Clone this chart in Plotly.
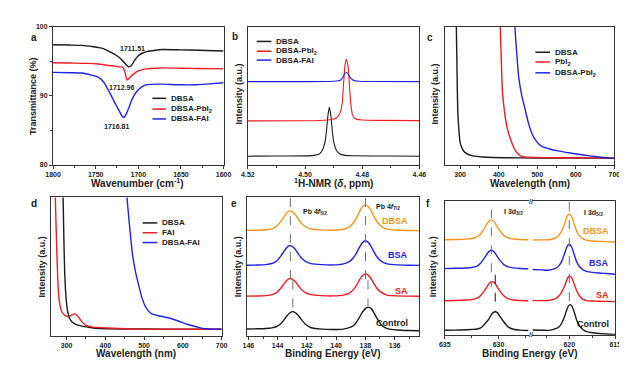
import plotly.graph_objects as go

W, H = 627, 369
FONT = "Liberation Sans"
BLACK = "#1a1a1a"; RED = "#ec1c24"; BLUE = "#2222e0"; ORANGE = "#f7941d"; GRAY = "#707070"

# ---------------- panel a : FTIR ----------------
a_black_x = [1800, 1780, 1766, 1755, 1743, 1732, 1725, 1720, 1715, 1711.5, 1708, 1704, 1700, 1695, 1690, 1680, 1672, 1650, 1630, 1600]
a_black_y = [97.4, 97.35, 97.3, 97.15, 96.9, 96.3, 95.8, 95.3, 94.6, 94.2, 94.4, 95.2, 95.8, 96.2, 96.4, 96.6, 96.7, 96.65, 96.6, 96.5]
a_red_x = [1800, 1780, 1760, 1747, 1735, 1728, 1722, 1718, 1716, 1714.5, 1713, 1711, 1708, 1704, 1700, 1695, 1690, 1680, 1670, 1650, 1630, 1600]
a_red_y = [94.8, 94.75, 94.7, 94.6, 94.4, 94.3, 94.2, 94.1, 93.6, 92.8, 92.3, 92.5, 92.9, 93.3, 93.6, 93.8, 93.9, 94.0, 94.05, 94.0, 93.95, 93.9]
a_blue_x = [1800, 1780, 1766, 1755, 1747, 1740, 1736, 1732, 1728, 1724, 1721, 1718.5, 1716.8, 1714, 1711, 1707, 1702, 1696, 1691, 1680, 1672, 1650, 1634, 1620, 1600]
a_blue_y = [93.4, 93.35, 93.3, 93.0, 92.7, 91.9, 91.0, 90.1, 89.1, 88.2, 87.5, 87.0, 86.9, 87.4, 88.3, 89.6, 90.6, 91.3, 91.6, 91.7, 91.7, 91.6, 91.6, 91.7, 91.9]
a_names = ["DBSA", "DBSA-PbI<sub>2</sub>", "DBSA-FAI"]
a_peaks = ["1711.51", "1712.96", "1716.81"]

# ---------------- panel b : 1H-NMR ----------------
b_black_x = [4.52, 4.51, 4.50, 4.497, 4.495, 4.494, 4.493, 4.4925, 4.492, 4.4915, 4.491, 4.4905, 4.490, 4.489, 4.488, 4.486, 4.483, 4.47, 4.46]
b_black_y = [6.4, 6.5, 6.6, 7.0, 8.0, 10.5, 17, 25, 36, 41.8, 36, 25, 17, 10.5, 8.2, 7.0, 6.7, 6.5, 6.4]
b_red_x = [4.52, 4.50, 4.495, 4.492, 4.490, 4.489, 4.488, 4.4875, 4.487, 4.4865, 4.486, 4.4856, 4.485, 4.4845, 4.484, 4.4835, 4.483, 4.482, 4.480, 4.475, 4.46]
b_red_y = [31.9, 32.0, 32.2, 32.6, 33.3, 34.2, 36.5, 39.5, 45, 60, 73, 76.4, 72, 58, 44, 37, 34.5, 33.2, 32.6, 32.3, 32.1]
b_blue_x = [4.52, 4.50, 4.492, 4.489, 4.4875, 4.487, 4.4865, 4.486, 4.4855, 4.485, 4.4845, 4.484, 4.483, 4.481, 4.478, 4.46]
b_blue_y = [60.3, 60.3, 60.4, 60.7, 61.5, 62.8, 64.8, 66.5, 66.9, 66.0, 64.3, 62.6, 61.2, 60.6, 60.4, 60.3]
b_names = ["DBSA", "DBSA-PbI<sub>2</sub>", "DBSA-FAI"]

# ---------------- panel c : UV-vis ----------------
c_black_x = [288, 290, 292, 293.6, 296, 300, 306, 313, 333, 360, 384, 450, 550, 700]
c_black_y = [120, 100, 65, 40, 28, 16, 11.5, 9, 6.6, 5.8, 5.5, 5.2, 5.1, 5.0]
c_red_x = [402, 404, 407, 410, 414, 418, 424, 431, 437, 443.6, 450, 460, 475, 494, 550, 620, 700]
c_red_y = [120, 100, 73, 51.5, 41, 32.6, 24.5, 18.4, 14, 10.2, 8.2, 6.2, 5.6, 5.5, 5.3, 5.2, 5.0]
c_blue_x = [440, 442, 447, 452, 460, 469, 477, 485.5, 497, 510.8, 530, 553, 585, 620, 655, 687, 700]
c_blue_y = [120, 100, 80, 63.3, 50, 39.7, 30.5, 23.2, 17.5, 13.7, 11.8, 10.2, 8.7, 7.3, 6.0, 5.0, 4.9]
c_names = ["DBSA", "PbI<sub>2</sub>", "DBSA-PbI<sub>2</sub>"]

# ---------------- panel d : UV-vis ----------------
d_black_x = [289, 291, 293, 295, 298, 303, 308, 312, 320, 337, 360, 387, 450, 550, 700]
d_black_y = [120, 100, 70, 47, 30, 17, 12.5, 10.6, 8.8, 7.1, 6.0, 5.2, 4.9, 4.8, 4.7]
d_red_x = [269, 271, 273, 275, 277, 279, 283, 287, 295, 304, 312, 320, 326, 332, 340, 349, 365, 387, 450, 500, 600, 700]
d_red_y = [120, 100, 78, 59, 43, 31, 22, 17.7, 15, 13.7, 14.8, 15.8, 15, 13, 10, 7.6, 6.4, 5.9, 5.1, 4.8, 4.7, 4.7]
d_blue_x = [454, 456, 463, 470, 478, 487, 495, 503, 511, 520, 540, 562, 590, 612, 635, 653, 675, 700]
d_blue_y = [120, 100, 78, 59, 46, 35.5, 27, 21.3, 18, 15.8, 14.3, 13, 10.5, 8.3, 6.5, 5.2, 4.8, 4.7]
d_names = ["DBSA", "FAI", "DBSA-FAI"]

# ---------------- panel e : XPS Pb 4f ----------------
e_x = [146.1, 145.4, 144.8, 144.4, 144.1, 143.8, 143.6, 143.4, 143.2, 143.0, 142.8, 142.6, 142.4, 142.1, 141.7, 141.0, 140.2,
       139.5, 139.1, 138.8, 138.6, 138.4, 138.2, 138.0, 137.8, 137.6, 137.4, 137.2, 136.9, 136.5, 135.8, 135.0, 134.3]
e_dbsa = [76.2, 76.3, 76.6, 77.3, 78.9, 82.5, 85.5, 88.6, 90.2, 89.7, 87.6, 84.5, 81.6, 78.8, 77.2, 76.5, 76.3,
          77.0, 78.7, 81.9, 85.4, 89.7, 93.2, 94.6, 93.4, 90.3, 86.1, 82.4, 79.1, 77.1, 76.4, 76.1, 76.0]
e_bsa = [51.0, 51.1, 51.4, 52.2, 53.8, 57.4, 60.4, 63.5, 65.1, 64.6, 62.5, 59.4, 56.5, 53.7, 52.1, 51.4, 51.2,
         52.0, 53.6, 56.6, 59.9, 64.1, 67.3, 68.7, 67.5, 64.5, 60.4, 56.9, 53.8, 51.9, 51.2, 51.0, 50.9]
e_sa = [28.6, 28.7, 29.0, 29.7, 31.0, 34.2, 37.0, 39.7, 41.3, 41.0, 39.2, 36.5, 33.7, 31.2, 29.7, 29.0, 28.8,
        29.4, 30.8, 33.5, 36.6, 40.3, 43.3, 44.7, 43.8, 41.1, 37.5, 34.2, 31.3, 29.4, 28.8, 28.6, 28.5]
e_control = [4.9, 5.0, 5.2, 5.7, 6.5, 8.5, 11.0, 13.9, 16.3, 17.4, 16.8, 14.8, 12.0, 8.3, 5.8, 4.8, 4.5,
             4.8, 5.8, 7.4, 9.9, 13.4, 17.0, 19.6, 20.5, 19.6, 16.4, 12.5, 7.8, 5.2, 4.2, 3.8, 3.6]
e_peak_top = [143.13, 137.99]
e_peak_ctrl = [142.96, 137.82]

# ---------------- panel f : XPS I 3d (broken axis) ----------------
fL_x = [635, 634, 633, 632.5, 632, 631.7, 631.4, 631.1, 630.9, 630.7, 630.5, 630.3, 630.1, 629.8, 629.5, 629.1, 628.6, 628, 627.2]
fL_dbsa = [71.2, 71.4, 71.7, 72.1, 73.3, 75.2, 78.6, 82.7, 85.1, 86.1, 85.6, 83.6, 80.6, 77.2, 74.5, 72.6, 71.8, 71.4, 71.2]
fL_bsa = [49.6, 49.8, 50.0, 50.4, 51.5, 53.4, 56.5, 60.1, 62.3, 63.3, 62.9, 61.1, 58.4, 55.2, 52.6, 50.9, 50.1, 49.7, 49.5]
fL_sa = [25.5, 25.7, 26.0, 26.3, 27.4, 29.1, 32.0, 35.5, 38.1, 39.6, 39.6, 38.1, 35.5, 32.0, 29.2, 26.9, 26.1, 25.7, 25.5]
fL_control = [3.4, 3.5, 3.7, 4.0, 4.3, 4.9, 6.9, 9.7, 11.7, 14.5, 16.6, 17.3, 16.5, 13.0, 9.6, 5.9, 4.1, 3.5, 3.2]
fR_x = [624, 623, 622.3, 621.8, 621.4, 621.1, 620.8, 620.5, 620.3, 620.1, 619.9, 619.7, 619.5, 619.2, 618.9, 618.5, 618.1, 617.5, 616.8, 616, 615]
fR_dbsa = [71.0, 71.1, 71.2, 71.8, 73.0, 74.8, 78.2, 83.6, 87.6, 90.1, 90.2, 87.7, 83.6, 77.6, 74.1, 71.8, 70.8, 70.3, 70.0, 69.8, 69.5]
fR_bsa = [48.9, 48.6, 48.4, 49.0, 50.1, 52.0, 55.4, 61.2, 65.2, 67.6, 67.5, 65.0, 60.8, 54.8, 51.2, 48.6, 47.5, 46.8, 46.3, 45.9, 45.4]
fR_sa = [25.6, 25.6, 25.7, 26.3, 27.4, 29.2, 32.3, 36.8, 40.5, 43.4, 43.8, 42.5, 38.7, 33.0, 29.2, 26.5, 25.6, 25.3, 25.1, 25.0, 24.8]
fR_control = [3.6, 3.4, 3.3, 3.9, 4.8, 6.0, 9.0, 13.8, 18.2, 21.5, 22.6, 21.2, 17.7, 11.1, 6.8, 3.8, 2.3, 1.5, 1.0, 0.6, 0.3]
f_peak_top = [630.66, 620.0]
f_peak_ctrl = [630.3, 619.9]

xps_names = ["DBSA", "BSA", "SA", "Control"]
xps_colors = [ORANGE, BLUE, RED, BLACK]

# ---------------- figure ----------------
fig = go.Figure()


def line(x, y, color, ax, width=1.4, dash=None, spline=True):
    fig.add_trace(go.Scatter(
        x=x, y=y, mode="lines", hoverinfo="skip", showlegend=False,
        line=dict(color=color, width=width, dash=dash,
                  shape="spline" if spline else "linear", smoothing=0.6),
        xaxis="x" if ax == 1 else f"x{ax}", yaxis="y" if ax == 1 else f"y{ax}"))


line(a_black_x, a_black_y, BLACK, 1)
line(a_red_x, a_red_y, RED, 1)
line(a_blue_x, a_blue_y, BLUE, 1)

line(b_black_x, b_black_y, BLACK, 2, 1.1)
line(b_red_x, b_red_y, RED, 2, 1.1)
line(b_blue_x, b_blue_y, BLUE, 2, 1.1)

line(c_black_x, c_black_y, BLACK, 3)
line(c_red_x, c_red_y, RED, 3)
line(c_blue_x, c_blue_y, BLUE, 3)

line(d_black_x, d_black_y, BLACK, 4)
line(d_red_x, d_red_y, RED, 4)
line(d_blue_x, d_blue_y, BLUE, 4)

for ys, col in zip([e_dbsa, e_bsa, e_sa, e_control], xps_colors):
    line(e_x, ys, col, 5)
# dashed peak guides (panel e)
for xt, xc in zip(e_peak_top, e_peak_ctrl):
    line([xt, xt], [99.5, 40], GRAY, 5, 1.0, "dash", False)
    line([xc, xc], [40, 17.5], GRAY, 5, 1.0, "dash", False)

for ys, col in zip([fL_dbsa, fL_bsa, fL_sa, fL_control], xps_colors):
    line(fL_x, ys, col, 6)
for ys, col in zip([fR_dbsa, fR_bsa, fR_sa, fR_control], xps_colors):
    line(fR_x, ys, col, 7)
line([f_peak_top[0]] * 2, [94, 36], GRAY, 6, 1.0, "dash", False)
line([f_peak_ctrl[0]] * 2, [45, 17], BLACK, 6, 1.0, "dash", False)
line([f_peak_top[1]] * 2, [99.5, 20], GRAY, 7, 1.0, "dash", False)


def dx(l, r):
    return [l / W, r / W]


def dy(t, b):
    return [1 - b / H, 1 - t / H]


TICKFONT = dict(family=FONT, size=7, color="#222", weight="bold")
base = dict(showline=True, linecolor="#333", linewidth=1, showgrid=False, zeroline=False,
            ticks="outside", ticklen=3, tickwidth=1, tickcolor="#333", tickfont=TICKFONT)


def xaxis(l, r, rng, anchor, dtick, minor, mirror=True, fmt=None):
    d = dict(base, domain=dx(l, r), range=rng, anchor=anchor, dtick=dtick, mirror=mirror,
             minor=dict(dtick=minor, ticks="outside", ticklen=2, tickcolor="#333", showgrid=False))
    if fmt:
        d["tickformat"] = fmt
    return d


def yaxis_blank(t, b, anchor, mirror=True, side="left"):
    return dict(showline=True, linecolor="#333", linewidth=1, mirror=mirror, showgrid=False,
                zeroline=False, ticks="", showticklabels=False, domain=dy(t, b), range=[0, 100],
                anchor=anchor, side=side)


layout = dict(
    width=W, height=H, margin=dict(l=0, r=0, t=0, b=0),
    paper_bgcolor="white", plot_bgcolor="white", showlegend=False,
    font=dict(family=FONT, color="#222", size=8),
    xaxis=xaxis(38, 213, [1800, 1600], "y", 50, 25),
    yaxis=dict(base, domain=dy(15, 156), range=[80, 100], anchor="x", dtick=10, mirror=True,
               minor=dict(dtick=5, ticks="outside", ticklen=2, tickcolor="#333", showgrid=False)),
    xaxis2=xaxis(238, 414, [4.52, 4.46], "y2", 0.02, 0.01, fmt=".2f"),
    yaxis2=yaxis_blank(15, 156, "x2"),
    xaxis3=xaxis(440, 614, [260, 700], "y3", 100, 50),
    yaxis3=yaxis_blank(15, 156, "x3"),
    xaxis4=xaxis(36, 211, [260, 700], "y4", 100, 50),
    yaxis4=yaxis_blank(189, 330, "x4"),
    xaxis5=xaxis(237, 414, [146.1, 134.3], "y5", 2, 1),
    yaxis5=yaxis_blank(189, 330, "x5"),
    xaxis6=xaxis(440, 526, [635, 627.2], "y6", 5, 2.5),
    yaxis6=yaxis_blank(193, 329, "x6", mirror=False),
    xaxis7=xaxis(530, 615, [624, 615], "y7", 5, 2.5),
    yaxis7=yaxis_blank(193, 329, "x7", mirror=False, side="right"),
)
fig.update_layout(**layout)

ann = []
shapes = []


def text(px, py, s, size=8, color="#222", xanchor="center", angle=0):
    ann.append(dict(x=px / W, y=1 - py / H, xref="paper", yref="paper", text=s, showarrow=False,
                    xanchor=xanchor, yanchor="middle", textangle=angle,
                    font=dict(family=FONT, size=size, color=color, weight="bold")))


def legend(x0, x1, rows, names, colors):
    for yy, nm, col in zip(rows, names, colors):
        shapes.append(dict(type="line", xref="paper", yref="paper", x0=x0 / W, x1=x1 / W,
                           y0=1 - yy / H, y1=1 - yy / H, line=dict(color=col, width=1.5)))
        text(x1 + 3, yy, nm, 8, "#222", "left")


# panel letters
for s, px, py in [("a", 18, 26), ("b", 225, 25), ("c", 425, 26), ("d", 18, 195), ("e", 224, 195), ("f", 423, 195)]:
    text(px, py, s, 10)

# axis titles
text(125, 174, "Wavenumber (cm<sup>-1</sup>)", 10)
text(18, 86, "Transmittance (%)", 9, angle=-90)
text(326, 174, "<sup>1</sup>H-NMR (<i>δ</i>, ppm)", 10)
text(229, 84, "Intensity (a.u.)", 9, angle=-90)
text(527, 175, "Wavelength (nm)", 10)
text(430, 84, "Intensity (a.u.)", 9, angle=-90)
text(123, 348, "Wavelength (nm)", 10)
text(27, 260, "Intensity (a.u.)", 9, angle=-90)
text(325, 348, "Binding Energy (eV)", 10)
text(228, 260, "Intensity (a.u.)", 9, angle=-90)
text(527, 348, "Binding Energy (eV)", 10)
text(428, 260, "Intensity (a.u.)", 9, angle=-90)

# panel a peak labels
text(120, 37, a_peaks[0], 7)
text(108, 77, a_peaks[1], 7)
text(103, 117, a_peaks[2], 7)

# legends
legend(140, 154, [88, 99, 109], a_names, [BLACK, RED, BLUE])
legend(247, 262, [30, 40, 49], b_names, [BLACK, RED, BLUE])
legend(533, 548, [41, 51, 62], c_names, [BLACK, RED, BLUE])
legend(130, 145, [215, 225, 235], d_names, [BLACK, RED, BLUE])

# panel e labels
text(307, 204, "Pb 4<i>f</i><sub>5/2</sub>", 7)
text(382, 199, "Pb 4<i>f</i><sub>7/2</sub>", 7)
for nm, col, py in zip(xps_names, xps_colors, [213, 248, 284, 317]):
    text(404, py, nm, 9, col, "right")

# panel f labels
text(511, 204, "I 3d<sub>3/2</sub>", 7)
text(593, 205, "I 3d<sub>5/2</sub>", 7)
for nm, col, py in zip(xps_names, xps_colors, [223, 256, 288, 318]):
    text(611, py, nm, 9, col, "right")

# axis break marks
text(528, 193, "//", 7, "#333")
text(528, 329, "//", 7, "#333")

fig.update_layout(annotations=ann, shapes=shapes)
fig.write_html("out.html")
